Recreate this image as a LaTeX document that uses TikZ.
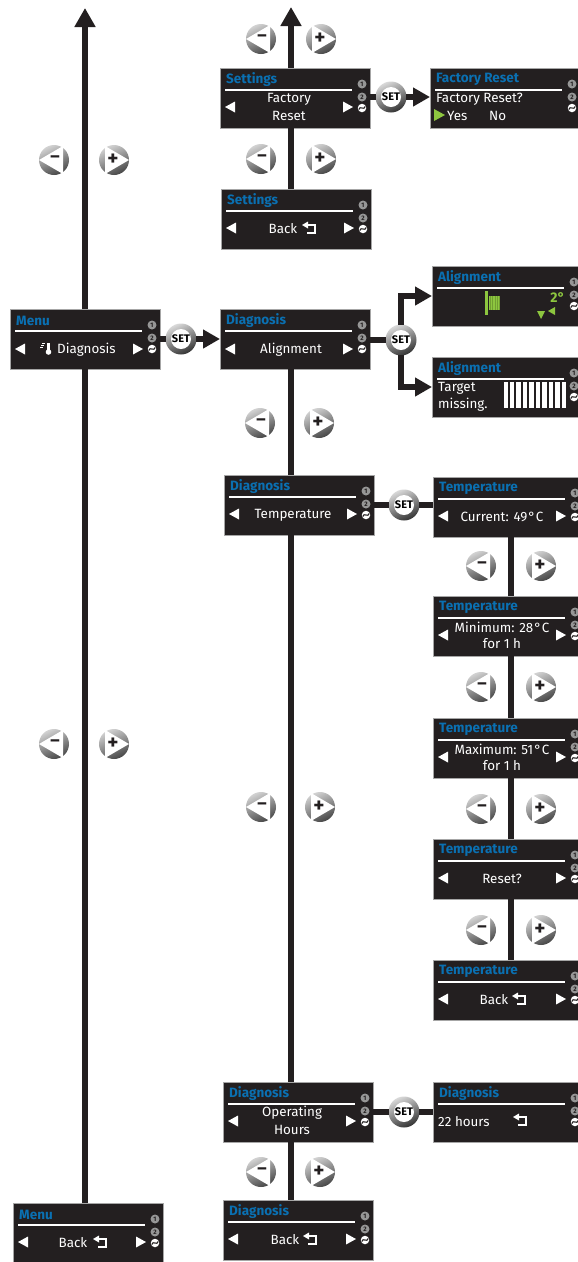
\documentclass[tikz,border=0pt]{standalone}
\usepackage{fontspec}
\setmainfont{Fira Sans}
\usetikzlibrary{
	arrows.meta,
	calc,
	positioning,
	shapes.geometric
}
\definecolor{ScreenBlack}{RGB}{35,31,32}
\definecolor{TitleBlue}{RGB}{10,112,178}
\definecolor{SignalGreen}{RGB}{141,198,63}
\definecolor{LedGray}{RGB}{150,150,150}

\tikzset{
	screenbox/.style={draw=gray!70, line width=0.6pt, fill=ScreenBlack, anchor=north west, inner sep=0pt, outer sep=0pt, minimum width=150pt, minimum height=60pt},
	screentitle/.style={anchor=west, inner sep=0pt, yshift=-0.5pt, text=TitleBlue, font=\fontsize{13.5}{15}\selectfont\bfseries},
	screenline/.style={anchor=center, inner sep=0pt, yshift=-1pt, text=white, font=\fontsize{13.4}{15}\selectfont},
	screenleft/.style={screenline, anchor=west},
	ledbox/.style={circle, fill=LedGray, inner sep=0pt, minimum size=9pt, text=ScreenBlack, font=\fontsize{6.5}{7}\selectfont\bfseries},
	swirlbox/.style={circle, fill=white, inner sep=0pt, minimum size=8.5pt},
	flowline/.style={line width=5.4pt, color=ScreenBlack},
	flowup/.style={flowline, -{Triangle[length=19pt,width=20pt]}},
	flowset/.style={flowline, -{Triangle[length=17pt,width=18pt]}},
	btnbase/.style={circle, minimum size=30pt, inner sep=0pt, outer sep=0pt, top color=gray!35, bottom color=gray!55!black, shading angle=25},
	btnsign/.style={inner sep=0pt, text=ScreenBlack, font=\fontsize{21}{21}\selectfont\bfseries},
	setbtn/.style={circle, minimum size=20pt, inner sep=0pt, outer sep=5pt, fill=white, text=black, font=\fontsize{11}{11}\selectfont\bfseries},
	setring/.style={circle, minimum size=31pt, inner sep=0pt, top color=gray!30, bottom color=gray!40!black, shading angle=25}
}

% screen: name, x, y, title
\newcommand{\drawscreen}[4]{
	\node[screenbox] (#1) at (#2,#3) {};
	\node[screentitle] (#1title) at ($(#1.north west)+(6,11)$) {#4};
	\draw[white, line width=1.6pt] ($(#1.north west)+(5,22)$) -- ($(#1.north west)+(132,22)$);
	\node[ledbox] (#1one) at ($(#1.north west)+(142,16)$) {1};
	\node[ledbox] (#1two) at ($(#1.north west)+(142,29)$) {2};
	\node[swirlbox] (#1swirl) at ($(#1.north west)+(142,40)$) {};
	\draw[ScreenBlack, line width=1.1pt] ($(#1swirl.center)+(-3.2,1.5)$) .. controls +(1,-4.5) and +(-1,4.5) .. ($(#1swirl.center)+(3.2,-1.5)$);
}
% the two white arrows: name, dy
\newcommand{\screennav}[2]{
	\fill[white] ($(#1.north west)+(5,#2)$) -- ++(10,-5.5) -- ++(0,11) -- cycle;
	\fill[white] ($(#1.north west)+(133,#2)$) -- ++(-10,-5.5) -- ++(0,11) -- cycle;
}
% return sign: left end of it at x, y
\newcommand{\backsign}[2]{
	\fill[white] (#1,#2) -- ++(6,-3.5) -- ++(0,7) -- cycle;
	\draw[white, line width=1.1pt] (#1+5,#2) -- (#1+13,#2) -- (#1+13,#2+8) -- (#1+5,#2+8);
}
\newcommand{\btnminus}[3]{
	\node[btnbase] (#1) at (#2,#3) {};
	\fill[white] (#1.west) -- ($(#1.center)+(9,-14)$) -- ($(#1.center)+(9,14)$) -- cycle;
	\node[btnsign, font=\fontsize{18}{18}\selectfont\bfseries] (#1sign) at ($(#1.center)+(1,-0.5)$) {--};
}
\newcommand{\btnplus}[3]{
	\node[btnbase] (#1) at (#2,#3) {};
	\fill[white] (#1.east) -- ($(#1.center)+(-9,-14)$) -- ($(#1.center)+(-9,14)$) -- cycle;
	\node[btnsign] (#1sign) at ($(#1.center)+(-1,-0.5)$) {+};
}
\newcommand{\btnset}[3]{
	\node[setring] (#1ring) at (#2,#3) {};
	\node[setbtn] (#1) at (#2,#3) {SET};
}

\begin{document}
\begin{tikzpicture}[x=1pt, y=-1pt]
	\useasboundingbox (0,0) rectangle (578,1262);
	\clip (0,0) rectangle (578,1262);
	\fill[white] (0,0) rectangle (578,1262);

	\coordinate (colA) at (85,0);
	\coordinate (colB) at (291,0);
	\coordinate (colC) at (511,0);
	\coordinate (menuTop) at (85,8);
	\coordinate (settingsTop) at (291,7);

	% left column
	\drawscreen{menuDiag}{10}{309}{Menu}
	\screennav{menuDiag}{40}
	\node[screenleft] (menuDiagText) at (57,349) {Diagnosis};
	\fill[white] (47,343) rectangle (50,351);
	\fill[white] (48.5,352) circle (2.8pt);
	\foreach \i/\l in {0/45, 1.8/44, 3.6/43}
		\draw[white, line width=0.8pt] (\l-3,343.5+\i) -- (\l,343.5+\i);

	\drawscreen{menuBack}{13}{1203}{Menu}
	\screennav{menuBack}{39}
	\node[screenline] (menuBackText) at (73,1242) {Back};
	\backsign{93}{1239}

	% settings
	\drawscreen{settingsReset}{220}{68}{Settings}
	\screennav{settingsReset}{39}
	\node[screenline] (settingsResetOne) at (289,98) {Factory};
	\node[screenline] (settingsResetTwo) at (289,115) {Reset};

	\drawscreen{settingsBack}{221}{189}{Settings}
	\screennav{settingsBack}{39}
	\node[screenline] (settingsBackText) at (283,228) {Back};
	\backsign{302}{225}

	\drawscreen{factoryReset}{430}{68}{Factory Reset}
	\node[screenleft] (factoryAsk) at (436,98) {Factory Reset?};
	\fill[SignalGreen] (445,115) -- ++(-11,-6) -- ++(0,12) -- cycle;
	\node[screenleft] (factoryYes) at (447,115) {Yes};
	\node[screenleft] (factoryNo) at (489,115) {No};

	% diagnosis
	\drawscreen{diagAlign}{220}{309}{Diagnosis}
	\screennav{diagAlign}{40}
	\node[screenline] (diagAlignText) at (291,349) {Alignment};

	\drawscreen{diagTemp}{224}{475}{Diagnosis}
	\screennav{diagTemp}{39}
	\node[screenline] (diagTempText) at (293,514) {Temperature};

	\drawscreen{diagHours}{223}{1082}{Diagnosis}
	\screennav{diagHours}{39}
	\node[screenline] (diagHoursOne) at (292,1112) {Operating};
	\node[screenline] (diagHoursTwo) at (292,1129) {Hours};

	\drawscreen{diagBack}{223}{1200}{Diagnosis}
	\screennav{diagBack}{39}
	\node[screenline] (diagBackText) at (285,1239) {Back};
	\backsign{303}{1236}

	\drawscreen{hoursValue}{433}{1082}{Diagnosis}
	\node[screenleft] (hoursValueText) at (438,1121) {22 hours};
	\backsign{513}{1117}

	% alignment
	\drawscreen{alignGood}{432}{266}{Alignment}
	\fill[SignalGreen] (485,291) rectangle (487.5,315);
	\fill[SignalGreen!80!black] (489,296) rectangle (500,310);
	\foreach \i in {0,...,4}
		\fill[SignalGreen] (489+2.2*\i,296) rectangle (490.2+2.2*\i,310);
	\node[screentitle, text=SignalGreen, anchor=east, font=\fontsize{14}{15}\selectfont\bfseries] (alignAngle) at (565,297) {2°};
	\fill[SignalGreen] (537,311) -- ++(8,0) -- ++(-4,8) -- cycle;
	\fill[SignalGreen] (548,311) -- ++(7,-4) -- ++(0,8) -- cycle;

	\drawscreen{alignBad}{432}{357}{Alignment}
	\node[screenleft] (alignBadOne) at (438,387) {Target};
	\node[screenleft] (alignBadTwo) at (438,404) {missing.};
	\foreach \i in {0,...,9}
		\fill[white] (503.5+6.45*\i,382) rectangle (508+6.45*\i,408);

	% temperature
	\drawscreen{tempCurrent}{433}{477}{Temperature}
	\screennav{tempCurrent}{39}
	\node[screenline] (tempCurrentText) at (502,516) {Current: 49\kern1pt°\kern0.5pt C};

	\drawscreen{tempMin}{433}{596}{Temperature}
	\screennav{tempMin}{39}
	\node[screenline] (tempMinOne) at (502,626) {Minimum: 28\kern1pt°\kern0.5pt C};
	\node[screenline] (tempMinTwo) at (502,643) {for 1 h};

	\drawscreen{tempMax}{433}{718}{Temperature}
	\screennav{tempMax}{39}
	\node[screenline] (tempMaxOne) at (502,748) {Maximum: 51\kern1pt°\kern0.5pt C};
	\node[screenline] (tempMaxTwo) at (502,765) {for 1 h};

	\drawscreen{tempReset}{433}{839}{Temperature}
	\screennav{tempReset}{39}
	\node[screenline] (tempResetText) at (502,878) {Reset?};

	\drawscreen{tempBack}{433}{960}{Temperature}
	\screennav{tempBack}{39}
	\node[screenline] (tempBackText) at (494,999) {Back};
	\backsign{512}{996}

	% set buttons
	\btnset{setMenu}{181}{339}
	\btnset{setReset}{391}{97}
	\btnset{setAlign}{401}{340}
	\btnset{setTemp}{404}{505}
	\btnset{setHours}{404}{1112}

	% connectors
	\draw[flowup] (menuDiag.north -| colA) -- (menuTop);
	\draw[flowline] (menuDiag.south -| colA) -- (menuBack.north -| colA);
	\draw[flowup] (settingsReset.north -| colB) -- (settingsTop);
	\draw[flowline] (settingsReset.south -| colB) -- (settingsBack.north -| colB);
	\draw[flowline] (diagAlign.south -| colB) -- (diagTemp.north -| colB);
	\draw[flowline] (diagTemp.south -| colB) -- (diagHours.north -| colB);
	\draw[flowline] (diagHours.south -| colB) -- (diagBack.north -| colB);
	\draw[flowline] (tempCurrent.south -| colC) -- (tempMin.north -| colC);
	\draw[flowline] (tempMin.south -| colC) -- (tempMax.north -| colC);
	\draw[flowline] (tempMax.south -| colC) -- (tempReset.north -| colC);
	\draw[flowline] (tempReset.south -| colC) -- (tempBack.north -| colC);

	\draw[flowline] (menuDiag.east |- setMenu) -- (setMenu.west);
	\draw[flowset] (setMenu.east) -- (diagAlign.west |- setMenu);
	\draw[flowline] (settingsReset.east |- setReset) -- (setReset.west);
	\draw[flowset] (setReset.east) -- (factoryReset.west |- setReset);
	\draw[flowline] (diagAlign.east |- setAlign) -- (setAlign.west);
	\draw[flowset] (setAlign.north) |- (alignGood.west);
	\draw[flowset] (setAlign.south) |- (alignBad.west);
	\draw[flowline] (diagTemp.east |- setTemp) -- (setTemp.west);
	\draw[flowline] (setTemp.east) -- (tempCurrent.west |- setTemp);
	\draw[flowline] (diagHours.east |- setHours) -- (setHours.west);
	\draw[flowline] (setHours.east) -- (hoursValue.west |- setHours);

	% plus and minus buttons
	\btnminus{minusA}{54}{160}
	\btnplus{plusA}{114}{160}
	\btnminus{minusB}{54}{744}
	\btnplus{plusB}{114}{744}
	\btnminus{minusC}{261}{39}
	\btnplus{plusC}{321}{39}
	\btnminus{minusD}{261}{159}
	\btnplus{plusD}{321}{159}
	\btnminus{minusE}{260}{423}
	\btnplus{plusE}{319}{423}
	\btnminus{minusF}{261}{807}
	\btnplus{plusF}{320}{807}
	\btnminus{minusG}{261}{1172}
	\btnplus{plusG}{320}{1172}
	\btnminus{minusH}{481}{566}
	\btnplus{plusH}{541}{566}
	\btnminus{minusI}{481}{687}
	\btnplus{plusI}{541}{687}
	\btnminus{minusJ}{481}{809}
	\btnplus{plusJ}{541}{809}
	\btnminus{minusK}{481}{930}
	\btnplus{plusK}{541}{930}
\end{tikzpicture}
\end{document}
